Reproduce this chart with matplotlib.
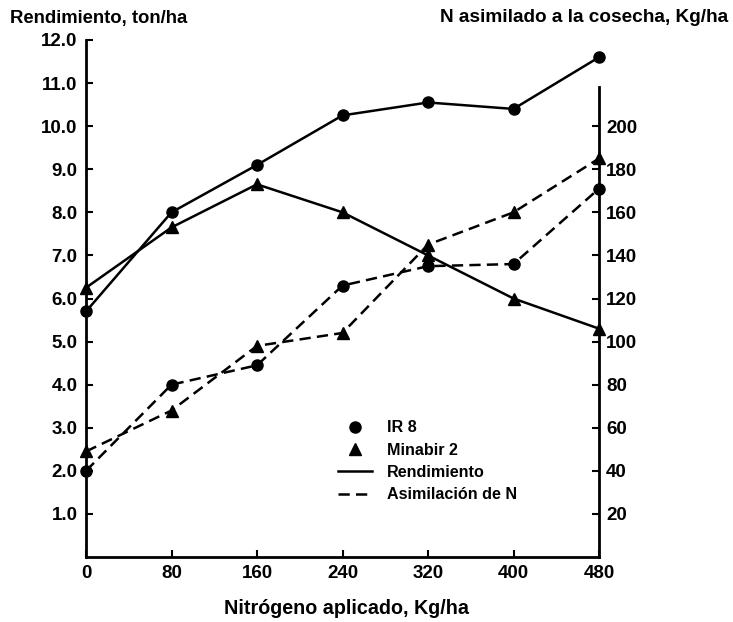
import numpy as np
import matplotlib
matplotlib.use("Agg")
import matplotlib.pyplot as plt
from matplotlib.lines import Line2D

plt.rcParams["font.family"] = ["Liberation Sans", "DejaVu Sans"]
plt.rcParams["font.weight"] = "bold"

# data
nitrogen = [0, 80, 160, 240, 320, 400, 480]  # Kg/ha applied
yield_ir8 = [5.7, 8.0, 9.1, 10.25, 10.55, 10.4, 11.6]      # ton/ha
yield_minabir = [6.25, 7.65, 8.65, 8.0, 7.0, 6.0, 5.3]     # ton/ha
uptake_ir8 = [40, 80, 89, 126, 135, 136, 171]              # Kg/ha
uptake_minabir = [49, 68, 98, 104, 145, 160, 185]          # Kg/ha

left_ticks = [1.0, 2.0, 3.0, 4.0, 5.0, 6.0, 7.0, 8.0, 9.0, 10.0, 11.0, 12.0]
right_ticks = [20, 40, 60, 80, 100, 120, 140, 160, 180, 200]

W, H = 733, 622
fig = plt.figure(figsize=(W / 100, H / 100), dpi=100)
ax = fig.add_axes([86 / W, 1 - 557 / H, (599 - 86) / W, (557 - 40) / H])
ax2 = ax.twinx()

lw = 1.8
dash = (0, (4.5, 2.5))
ms = 8

ax.plot(nitrogen, yield_ir8, color="k", lw=lw, marker="o", ms=ms, clip_on=False, zorder=3)
ax.plot(nitrogen, yield_minabir, color="k", lw=lw, marker="^", ms=ms, clip_on=False, zorder=3)
ax2.plot(nitrogen, uptake_ir8, color="k", lw=lw, ls=dash, marker="o", ms=ms, clip_on=False, zorder=3)
ax2.plot(nitrogen, uptake_minabir, color="k", lw=lw, ls=dash, marker="^", ms=ms, clip_on=False, zorder=3)

ax.set_xlim(0, 480)
ax.set_ylim(0, 12)
ax2.set_ylim(0, 240)

ax.set_xticks(nitrogen)
ax.set_xticklabels([str(v) for v in nitrogen])
ax.set_yticks(left_ticks)
ax.set_yticklabels([f"{v:.1f}" for v in left_ticks])
ax2.set_yticks(right_ticks)
ax2.set_yticklabels([str(v) for v in right_ticks])

for a in (ax, ax2):
    for s in a.spines.values():
        s.set_linewidth(2)
    a.spines["top"].set_visible(False)
    a.tick_params(direction="in", length=5, width=1.5, labelsize=13.5, pad=6)
ax.spines["right"].set_visible(False)
ax2.spines["left"].set_visible(False)
ax2.spines["bottom"].set_visible(False)
ax2.spines["right"].set_bounds(0, 218)
ax2.tick_params(pad=5)

fig.text(10 / W, 1 - 18 / H, "Rendimiento, ton/ha", fontsize=13.3, fontweight="bold", va="center")
fig.text(728 / W, 1 - 18 / H, "N asimilado a la cosecha, Kg/ha", fontsize=13.7,
         fontweight="bold", va="center", ha="right")
fig.text(347 / W, 1 - 609 / H, "Nitrógeno aplicado, Kg/ha", fontsize=14.2,
         fontweight="bold", va="center", ha="center")

handles = [
    Line2D([], [], color="k", marker="o", ls="none", ms=8),
    Line2D([], [], color="k", marker="^", ls="none", ms=8),
    Line2D([], [], color="k", lw=lw),
    Line2D([], [], color="k", lw=lw, ls=dash),
]
labels = ["IR 8", "Minabir 2", "Rendimiento", "Asimilación de N"]
leg = fig.legend(handles, labels, loc="upper left", bbox_to_anchor=(323 / W, 1 - 406 / H),
                 frameon=False, handlelength=2.15, labelspacing=0.45, handletextpad=0.9,
                 prop={"weight": "bold", "size": 11.6})

fig.savefig("out.png", dpi=100)
